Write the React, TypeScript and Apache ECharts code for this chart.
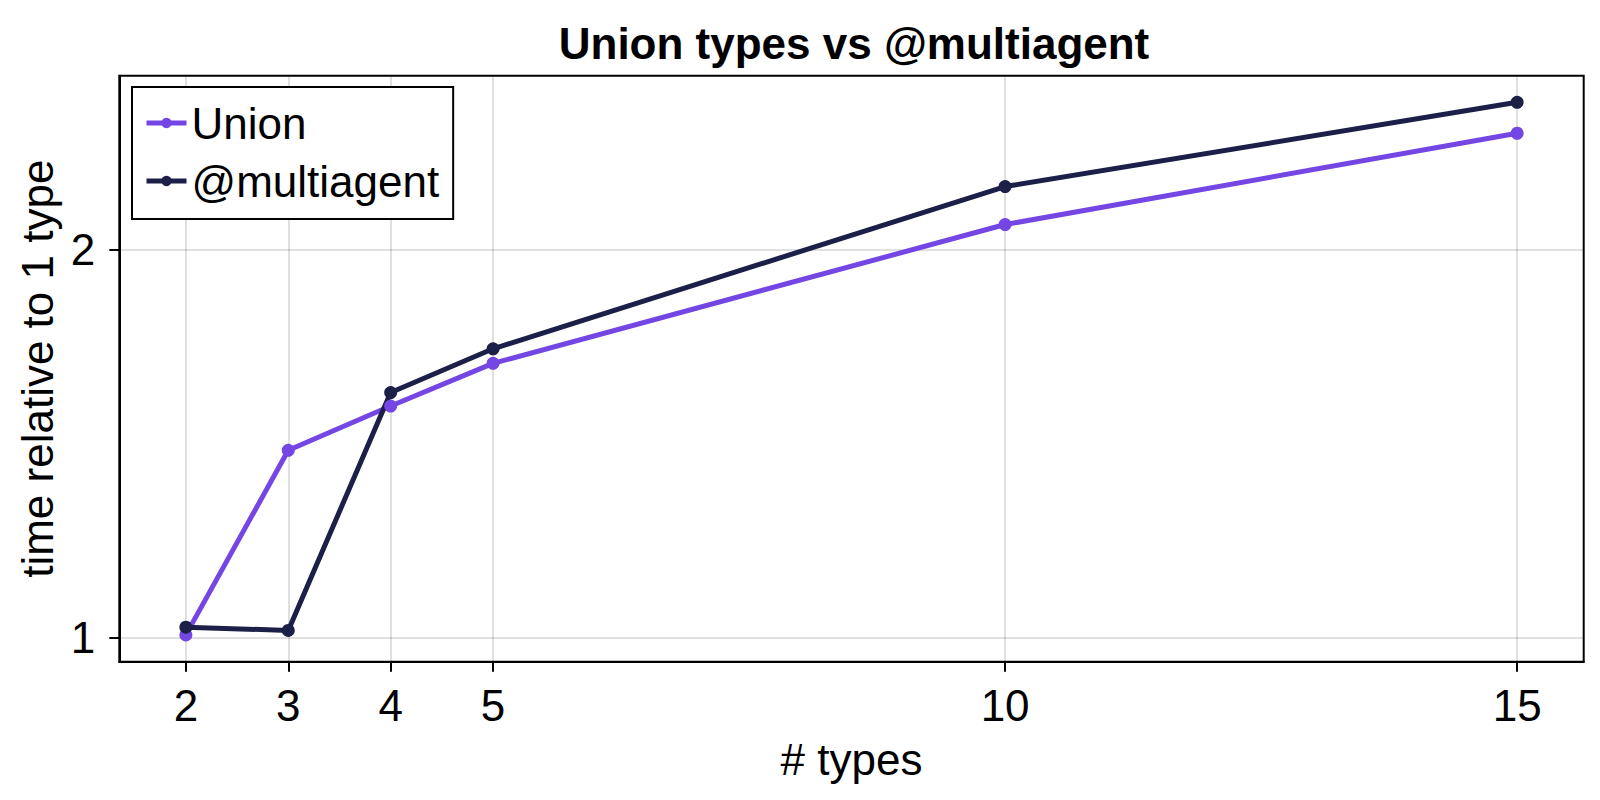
import React, { useRef, useEffect } from 'react';
import * as echarts from 'echarts';

const xValues = [2, 3, 4, 5, 10, 15];
const unionValues = [1.005, 1.398, 1.513, 1.633, 2.093, 2.464];
const multiagentValues = [1.019, 1.013, 1.55, 1.676, 2.24, 2.604];
const xTicks = [2, 3, 4, 5, 10, 15];
const yTicks = [1, 2];
const seriesNames = ['Union', '@multiagent'];
const seriesColors = ['#7446e4', '#1c1f47'];

const FONT = '"Liberation Sans", Arial, sans-serif';

const App = () => {
  const chartRef = useRef(null);

  useEffect(() => {
    const chartDom = chartRef.current;
    const myChart = echarts.init(chartDom, null, { renderer: 'svg' });

    const toPoints = (vals) => xValues.map((x, i) => [x, vals[i]]);

    const makeSeries = (i, vals) => ({
      name: seriesNames[i],
      type: 'line',
      data: toPoints(vals),
      symbol: 'circle',
      symbolSize: 13,
      color: seriesColors[i],
      lineStyle: { width: 5, color: seriesColors[i] },
      itemStyle: { color: seriesColors[i] }
    });

    const option = {
      animation: false,
      textStyle: { fontFamily: FONT },
      title: {
        text: 'Union types vs @multiagent',
        left: 854,
        top: 21,
        padding: 0,
        textAlign: 'center',
        textStyle: {
          fontFamily: FONT,
          fontSize: 44,
          lineHeight: 44,
          fontWeight: 'bold',
          color: '#000'
        }
      },
      legend: {
        orient: 'vertical',
        left: 132,
        top: 87,
        backgroundColor: '#fff',
        borderColor: '#000',
        borderWidth: 2,
        borderRadius: 0,
        padding: [14, 14, 16, 12],
        itemGap: 14,
        itemWidth: 40,
        itemHeight: 13,
        itemTextGap: 15,
        lineStyle: { width: 5 },
        textStyle: {
          fontFamily: FONT,
          fontSize: 44,
          lineHeight: 44,
          color: '#000'
        },
        data: seriesNames
      },
      grid: {
        left: 119.3,
        top: 75.7,
        right: 16.3,
        bottom: 138.3,
        show: true,
        borderColor: '#000',
        borderWidth: 2,
        containLabel: false
      },
      xAxis: {
        type: 'value',
        min: 1.35,
        max: 15.65,
        name: '# types',
        nameLocation: 'middle',
        nameGap: 76,
        nameTextStyle: { fontFamily: FONT, fontSize: 44, lineHeight: 44, color: '#000' },
        axisLine: { show: true, lineStyle: { color: '#000', width: 2 } },
        axisTick: {
          show: true,
          inside: false,
          length: 10,
          customValues: xTicks,
          lineStyle: { color: '#000', width: 2 }
        },
        axisLabel: {
          customValues: xTicks,
          margin: 22,
          fontFamily: FONT,
          fontSize: 44,
          lineHeight: 44,
          color: '#000'
        },
        splitLine: { show: true, lineStyle: { color: 'rgba(0,0,0,0.12)', width: 2 } }
      },
      yAxis: {
        type: 'log',
        logBase: 2,
        min: 0.958,
        max: 2.731,
        name: 'time relative to 1 type',
        nameLocation: 'middle',
        nameGap: 58,
        nameRotate: 90,
        nameTextStyle: { fontFamily: FONT, fontSize: 44, lineHeight: 44, color: '#000' },
        axisLine: { show: true, lineStyle: { color: '#000', width: 2 } },
        axisTick: {
          show: true,
          inside: false,
          length: 10,
          customValues: yTicks,
          lineStyle: { color: '#000', width: 2 }
        },
        axisLabel: {
          customValues: yTicks,
          margin: 24,
          fontFamily: FONT,
          fontSize: 44,
          lineHeight: 44,
          color: '#000'
        },
        splitLine: { show: true, lineStyle: { color: 'rgba(0,0,0,0.12)', width: 2 } }
      },
      series: [makeSeries(0, unionValues), makeSeries(1, multiagentValues)]
    };

    myChart.setOption(option);

    return () => {
      myChart.dispose();
    };
  }, []);

  return (
    <div
      ref={chartRef}
      style={{ position: 'absolute', left: 0, top: 0, width: '1600px', height: '800px', background: '#fff' }}
    />
  );
};

export default App;
